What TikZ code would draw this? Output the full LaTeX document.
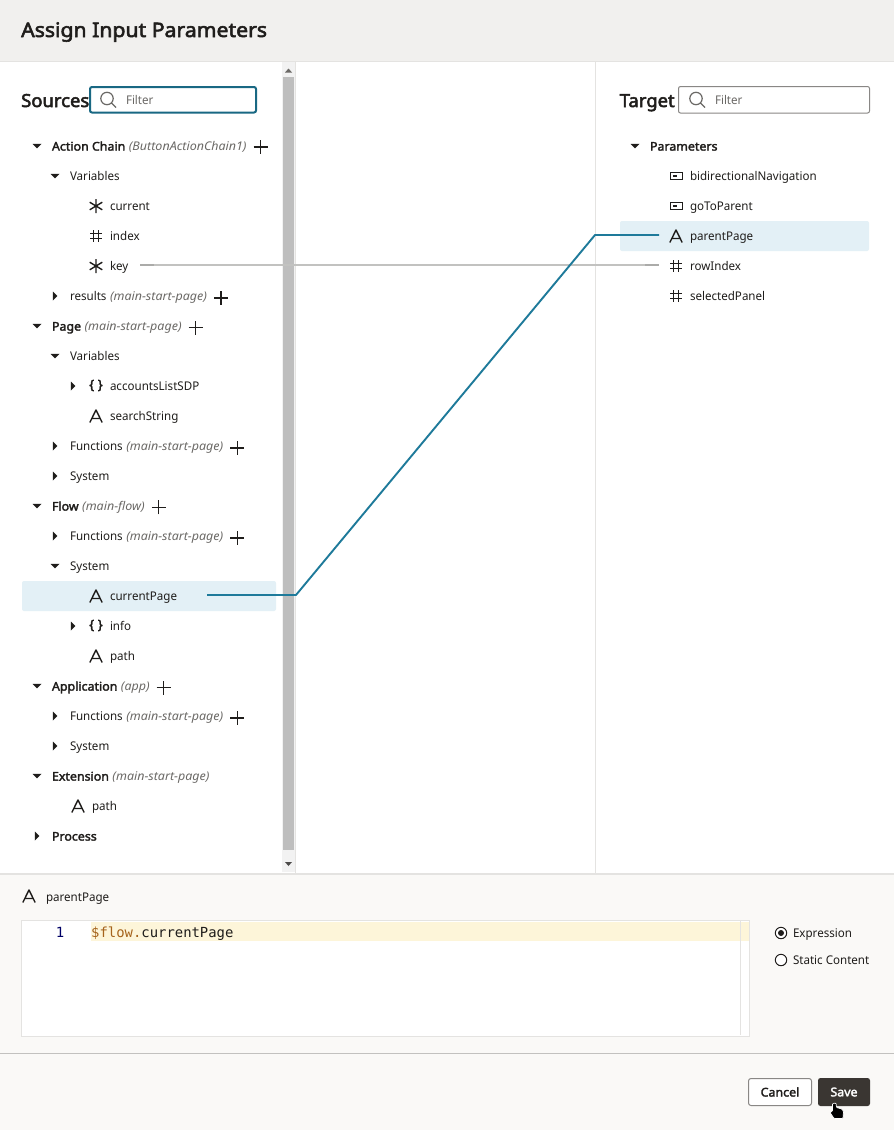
\documentclass[tikz,border=0pt]{standalone}
\usepackage{fontspec}
\setmainfont{Noto Sans}[FakeStretch=0.965,ItalicFeatures={FakeStretch=1.04}]
\setmonofont{DejaVu Sans Mono}
\newfontfamily\heavy{Noto Sans}[FakeBold=2.4,FakeStretch=1.035]
\newfontfamily\titlefam{Noto Sans}[FakeBold=2.8,FakeStretch=1.06]
\newfontfamily\headfam{Noto Sans}[FakeBold=2.8,FakeStretch=1.025]
\definecolor{ink}{HTML}{1F1D1B}
\definecolor{muted}{HTML}{6B6966}
\definecolor{teal}{HTML}{1E7A9A}
\definecolor{linkgray}{HTML}{C2C2C0}
\definecolor{linkend}{HTML}{ABABA9}
\definecolor{hilite}{HTML}{E3F0F6}
\definecolor{headbg}{HTML}{F1F0EE}
\definecolor{footbg}{HTML}{FAF9F7}
\definecolor{rule}{HTML}{E4E3E1}
\definecolor{thumb}{HTML}{BEBEBE}
\definecolor{track}{HTML}{F2F2F2}
\definecolor{codebg}{HTML}{FDF5D9}
\definecolor{brown}{HTML}{A5631C}
\definecolor{savebg}{HTML}{3A3632}
\tikzset{
  x=1pt,y=-1pt,
  lbl/.style={anchor=base west,inner sep=0pt,outer sep=0pt,text=ink,font=\fontsize{12}{14}\selectfont},
  boldlbl/.style={lbl,font=\heavy\fontsize{12}{14}\selectfont},
  title/.style={anchor=base west,inner sep=0pt,text=ink,font=\headfam\fontsize{18}{22}\selectfont},
  glyph/.style={draw=ink,line width=1.4pt,line cap=butt},
  fieldtext/.style={lbl,text=muted},
  connector/.style={line width=1.9pt},
}
\newcommand{\tlabel}[4]{\node[lbl] (#1) at (#2,#3+4.8) {#4};}
\newcommand{\tbold}[4]{\node[boldlbl] (#1) at (#2,#3+4.6) {#4};}
\newcommand{\tnote}[3]{\node[lbl,text=muted,font=\fontsize{12}{14}\selectfont\itshape,anchor=base west] (#1) at ([xshift=3.5pt]#2.base east) {#3};}
\newcommand{\arrowdown}[2]{\fill[ink] (#1-4.5,#2-2.2) -- (#1+4.5,#2-2.2) -- (#1,#2+2.4) -- cycle;}
\newcommand{\arrowright}[2]{\fill[ink] (#1-2.2,#2-4.5) -- (#1-2.2,#2+4.5) -- (#1+2.4,#2) -- cycle;}
\newcommand{\plusafter}[1]{\path (#1.east) ++(14,0) coordinate (tmpplus); \draw[glyph] ([xshift=-7pt]tmpplus) -- ([xshift=7pt]tmpplus) ([yshift=-7pt]tmpplus) -- ([yshift=7pt]tmpplus);}
\newcommand{\staricon}[2]{\draw[glyph] (#1,#2-7) -- (#1,#2+7) (#1-6.3,#2-3.8) -- (#1+6.3,#2+3.8) (#1-6.3,#2+3.8) -- (#1+6.3,#2-3.8);}
\newcommand{\hashicon}[2]{\draw[glyph] (#1-2.6,#2-6) -- (#1-2.6,#2+6) (#1+2.6,#2-6) -- (#1+2.6,#2+6) (#1-6,#2-2.5) -- (#1+6,#2-2.5) (#1-6,#2+2.5) -- (#1+6,#2+2.5);}
\newcommand{\aicon}[2]{\draw[glyph,line join=round] (#1-6.2,#2+6.5) -- (#1,#2-6) -- (#1+6.2,#2+6.5) (#1-4,#2+2.5) -- (#1+4,#2+2.5);}
\newcommand{\objicon}[2]{\node[anchor=center,inner sep=0pt,text=ink,font=\heavy\fontsize{13}{15}\selectfont] at (#1,#2-0.5) {\{\hspace{3.5pt}\}};}
\newcommand{\boolicon}[2]{\draw[draw=ink,line width=1pt] (#1-6,#2-3.5) rectangle (#1+6,#2+3.5); \fill[ink] (#1-3.5,#2-1) rectangle (#1+0.5,#2+1.2);}
\begin{document}
\begin{tikzpicture}
\useasboundingbox (0,0) rectangle (894,1130);
\fill[white] (0,0) rectangle (894,1130);
% header
\fill[headbg] (0,0) rectangle (894,61);
\draw[rule,line width=1pt] (0,61.5) -- (894,61.5);
\node[title,font=\titlefam\fontsize{20}{24}\selectfont] (dlgtitle) at (21,37) {Assign Input Parameters};
% panel separators
\draw[rule,line width=1pt] (595.5,62) -- (595.5,873);
\fill[track] (282,62) rectangle (295,872);
\draw[rule,line width=1pt] (295.5,62) -- (295.5,873);
\fill[thumb] (283,77) rectangle (294,850);
\fill[muted] (285,72.5) -- (292,72.5) -- (288.5,68.5) -- cycle;
\fill[ink!80] (285,862) -- (292,862) -- (288.5,866) -- cycle;
% highlights
\fill[hilite,rounded corners=2pt] (22,581) rectangle (276,611);
\fill[hilite,rounded corners=2pt] (620,221) rectangle (869,251);
% titles and filters
\node[title] (srcTitle) at (21,107) {Sources};
\node[title] (tgtTitle) at (619.5,107) {Target};
\draw[teal!85!black,line width=2pt,rounded corners=2pt,fill=white] (90,87) rectangle (256,112.5);
\draw[muted!80,line width=1pt,rounded corners=2pt,fill=white] (678.5,86.5) rectangle (869.5,113);
\draw[muted,line width=1.2pt] (107,98.5) circle (6.2) (111.5,103) -- (116,107.5);
\draw[muted,line width=1.2pt] (696,98.5) circle (6.2) (700.5,103) -- (705,107.5);
\node[fieldtext] (srcFilter) at (126,104) {Filter};
\node[fieldtext] (tgtFilter) at (715,104) {Filter};
% source tree
\arrowdown{37}{146}
\tbold{acLbl}{52}{146}{Action Chain}\tnote{acNote}{acLbl}{(ButtonActionChain1)}\plusafter{acNote}
\arrowdown{55}{176}
\tlabel{acVars}{70}{176}{Variables}
\staricon{96}{206}\tlabel{current}{110}{206}{current}
\hashicon{96}{236}\tlabel{index}{110}{236}{index}
\staricon{96}{266}\tlabel{key}{110}{266}{key}
\arrowright{55}{296}
\tlabel{results}{70}{296}{results}\tnote{resNote}{results}{(main-start-page)}\plusafter{resNote}
\arrowdown{37}{326}
\tbold{pageLbl}{52}{326}{Page}\tnote{pageNote}{pageLbl}{(main-start-page)}\plusafter{pageNote}
\arrowdown{55}{356}
\tlabel{pageVars}{70}{356}{Variables}
\arrowright{73}{386}\objicon{96}{386}\tlabel{sdp}{110}{386}{accountsListSDP}
\aicon{96}{416}\tlabel{search}{110}{416}{searchString}
\arrowright{55}{446}
\tlabel{pageFn}{70}{446}{Functions}\tnote{pageFnNote}{pageFn}{(main-start-page)}\plusafter{pageFnNote}
\arrowright{55}{476}
\tlabel{pageSys}{70}{476}{System}
\arrowdown{37}{506}
\tbold{flowLbl}{52}{506}{Flow}\tnote{flowNote}{flowLbl}{(main-flow)}\plusafter{flowNote}
\arrowright{55}{536}
\tlabel{flowFn}{70}{536}{Functions}\tnote{flowFnNote}{flowFn}{(main-start-page)}\plusafter{flowFnNote}
\arrowdown{55}{566}
\tlabel{flowSys}{70}{566}{System}
\aicon{96}{596}\tlabel{currentPage}{110}{596}{currentPage}
\arrowright{73}{626}\objicon{96}{626}\tlabel{info}{110}{626}{info}
\aicon{96}{656}\tlabel{path}{110}{656}{path}
\arrowdown{37}{686}
\tbold{appLbl}{52}{686}{Application}\tnote{appNote}{appLbl}{(app)}\plusafter{appNote}
\arrowright{55}{716}
\tlabel{appFn}{70}{716}{Functions}\tnote{appFnNote}{appFn}{(main-start-page)}\plusafter{appFnNote}
\arrowright{55}{746}
\tlabel{appSys}{70}{746}{System}
\arrowdown{37}{776}
\tbold{extLbl}{52}{776}{Extension}\tnote{extNote}{extLbl}{(main-start-page)}
\aicon{78}{806}\tlabel{extPath}{92}{806}{path}
\arrowright{37}{836}
\tbold{procLbl}{52}{836}{Process}
% target tree
\arrowdown{635}{146}
\tbold{params}{650}{146}{Parameters}
\boolicon{676}{176}\tlabel{bidi}{690}{176}{bidirectionalNavigation}
\boolicon{676}{206}\tlabel{goTo}{690}{206}{goToParent}
\aicon{676}{236}\tlabel{parentPage}{690}{236}{parentPage}
\hashicon{676}{266}\tlabel{rowIndex}{690}{266}{rowIndex}
\hashicon{676}{296}\tlabel{selPanel}{690}{296}{selectedPanel}
% connectors
\coordinate (keyOut) at (140,265);
\coordinate (keyEnd) at (154,265);
\coordinate (rowStart) at (645,265);
\coordinate (rowIn) at (659,265);
\coordinate (curOut) at (207,595);
\coordinate (bendL) at (296,595);
\coordinate (bendR) at (595,235);
\coordinate (parIn) at (659,235);
\draw[line width=2.4pt,linkgray] (keyOut) -- (rowIn);
\draw[connector,linkend] (keyOut) -- (keyEnd);
\draw[connector,linkend] (rowStart) -- (rowIn);
\draw[connector,teal,line join=round] (curOut) -- (bendL) -- (bendR) -- (parIn);
% bottom panel
\fill[footbg] (0,874) rectangle (894,1130);
\draw[rule,line width=2pt] (0,874) -- (894,874);
\aicon{29}{896}
\tlabel{exprName}{46}{896.5}{parentPage}
\draw[rule,line width=1pt,fill=white] (21.5,920.5) rectangle (749.5,1036.5);
\fill[codebg] (91,922) rectangle (749,941);
\draw[rule,line width=1pt] (740.5,921) -- (740.5,1035);
\node[anchor=base,inner sep=0pt,text=blue!40!black,font=\fontsize{14}{16}\selectfont\ttfamily] (lineNo) at (60,937) {1};
\node[anchor=base west,inner sep=0pt,font=\fontsize{13.9}{16}\selectfont\ttfamily,text=ink] (code) at (91,937) {\textcolor{brown}{\$flow.}currentPage};
\draw[ink,line width=1pt,fill=white] (781,933) circle (5.7);
\fill[ink] (781,933) circle (3);
\draw[ink,line width=1pt,fill=white] (781,960) circle (5.7);
\tlabel{exprOpt}{793}{933}{Expression}
\tlabel{staticOpt}{793}{960}{Static Content}
\draw[rule!85!black,line width=1pt] (0,1053.5) -- (894,1053.5);
\node[draw=muted!80,fill=white,line width=1pt,rounded corners=2.5pt,minimum width=63pt,minimum height=27pt,inner sep=0pt,text=ink,font=\heavy\fontsize{12}{14}\selectfont] (cancel) at (780,1092) {Cancel};
\node[fill=savebg,rounded corners=2.5pt,minimum width=52pt,minimum height=28pt,inner sep=0pt,text=white,font=\heavy\fontsize{12}{14}\selectfont] (save) at (844,1092) {Save};
% hand cursor
\fill[black,draw=white,line width=0.7pt,rounded corners=0.8pt] (832.5,1103.5) -- (836,1103) -- (836.5,1107.5) -- (842,1109) -- (843.5,1111.5) -- (843,1118.5) -- (834,1118.5) -- (830,1112.5) -- (832.5,1111) -- cycle;
\end{tikzpicture}
\end{document}
